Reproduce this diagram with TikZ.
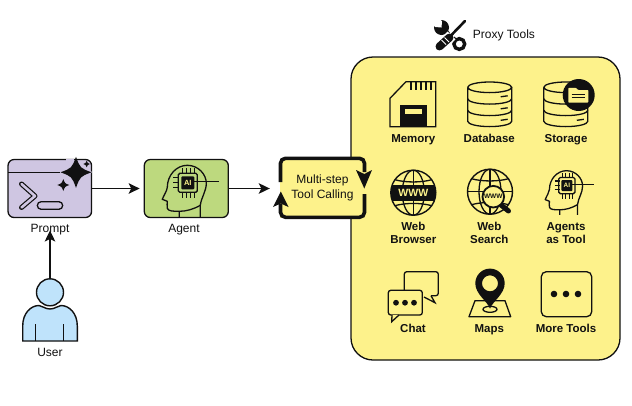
\documentclass[tikz,border=0pt]{standalone}
\usepackage{fontspec}
\setmainfont{Liberation Sans}
\usetikzlibrary{arrows.meta}
\definecolor{panelyellow}{HTML}{FDF28B}
\definecolor{promptfill}{HTML}{CFC6E2}
\definecolor{agentfill}{HTML}{BDD97E}
\definecolor{userfill}{HTML}{BFE3FB}
\definecolor{ink}{HTML}{111111}
\tikzset{
  lab/.style={font=\fontsize{12}{15}\selectfont,text=ink,align=center,inner sep=0pt,text height=9pt,text depth=2.5pt},
  toollab/.style={font=\fontsize{11.5}{12.6}\selectfont\bfseries,text=ink,align=center,inner sep=0pt,text height=8.5pt,text depth=2.5pt},
  flow/.style={draw=ink,line width=1.3pt,-{Stealth[length=11pt,width=10.5pt,inset=2.5pt]}},
  icon/.style={draw=ink,line width=1.3pt},
  thin icon/.style={draw=ink,line width=1pt},
  sparkle/.pic={\path[pic actions] (0,-1) .. controls (.27,-.27) .. (1,0) .. controls (.27,.27) .. (0,1) .. controls (-.27,.27) .. (-1,0) .. controls (-.27,-.27) .. (0,-1) -- cycle;},
  headpic/.pic={
    \draw[icon,line join=round] (-9,34) -- (-9,28) .. controls (-15,28) and (-20,28) .. (-21,25)
      .. controls (-21.5,22) and (-21,20) .. (-21,18) -- (-26,16) .. controls (-24,11) and (-21.5,8) .. (-21,4)
      .. controls (-21,-8) and (-12,-18) .. (-1,-18) .. controls (10,-18) and (18,-9) .. (18,0)
      .. controls (18,8) and (13,14) .. (12,22) -- (12,34);
    \draw[icon] (-9,28) .. controls (-2,28) and (5,26) .. (12,22);
    \draw[icon] (0,-2) -- (31,-2);
    \draw[icon] (-15,-6) -- (-9,-6) (-15,-1) -- (-9,-1) (-15,4) -- (-9,4);
    \foreach \px in {-5,-1,3,7}{\draw[thin icon] (\px-1,-15) -- (\px-1,-9) (\px-1,9) -- (\px-1,15);}
    \draw[icon,rounded corners=1.5pt,fill=none] (-10,-10) rectangle (9,9);
    \fill[ink,rounded corners=1pt] (-7,-7) rectangle (6,6);
    \node[transform shape,font=\fontsize{7.5}{8}\selectfont\bfseries,text=panelyellow,inner sep=0pt] at (-0.5,-0.5) {AI};
  },
  cylinder lines/.pic={
    \draw[icon,fill=none] (-22,-17.5) arc[start angle=180,end angle=-180,x radius=22,y radius=5.3]
      (-22,-17.5) -- (-22,16.5) arc[start angle=180,end angle=0,x radius=22,y radius=5.3] -- (22,-17.5);
    \draw[icon] (-22,-6) arc[start angle=180,end angle=0,x radius=22,y radius=5.3];
    \draw[icon] (-22,5.5) arc[start angle=180,end angle=0,x radius=22,y radius=5.3];
    \draw[icon] (11,-8) -- (18,-9) (11,4) -- (18,3) (11,15.5) -- (18,14.5);
  },
  globe/.pic={
    \draw[icon,line width=1.4pt] (0,0) circle[radius=22.5];
    \draw[icon] (0,0) ellipse[x radius=11,y radius=22.5];
    \draw[icon] (0,-22.5) -- (0,22.5);
    \draw[icon] (-18.5,-13) .. controls (-8,-10) and (8,-10) .. (18.5,-13);
    \draw[icon] (-18.5,13) .. controls (-8,10) and (8,10) .. (18.5,13);
    \draw[icon] (-22.5,0) -- (22.5,0);
  }
}
\begin{document}
\begin{tikzpicture}[x=1pt,y=-1pt]
\useasboundingbox (0,0) rectangle (632,405);
\fill[white] (0,0) rectangle (632,405);

% proxy panel
\node[draw=ink,line width=1.3pt,fill=panelyellow,rounded corners=22pt,minimum width=269pt,minimum height=303pt,inner sep=0pt] (panel) at (485.5,208.5) {};

% prompt
\node[draw=ink,line width=1.3pt,fill=promptfill,rounded corners=6pt,minimum width=83.5pt,minimum height=58pt,inner sep=0pt] (prompt) at (49.8,188.5) {};
\draw[icon] (8,172.3) -- (60,172.3);
\draw[ink,line width=5pt,line join=round,line cap=round] (21.5,184) -- (35,196) -- (21.5,207.5);
\draw[promptfill,line width=2.6pt,line join=round,line cap=round] (21.5,184) -- (35,196) -- (21.5,207.5);
\draw[icon,rounded corners=3.8pt] (37.3,201.7) rectangle (62.7,209.3);
\fill[promptfill] (62,172) -- (76,190) -- (92,172) -- (76,160.2) -- cycle;
\fill[promptfill] (66,159) rectangle (74,161);
\pic[fill=ink,scale=15.5] at (76,172.3) {sparkle};
\pic[fill=ink,scale=6] at (63.3,185) {sparkle};
\pic[fill=ink,scale=3.3] at (86.7,164) {sparkle};
\node[lab] (promptlabel) at (50,229.5) {Prompt};

% agent
\node[draw=ink,line width=1.3pt,fill=agentfill,rounded corners=6pt,minimum width=84pt,minimum height=58pt,inner sep=0pt] (agent) at (186.3,188.5) {};
\pic at (188.3,183.3) {headpic};
\node[lab] (agentlabel) at (184,229.5) {Agent};

% user
\draw[icon,line width=1.4pt,fill=userfill] (22.7,341) -- (22.7,326) .. controls (22.7,313) and (31,305.5) .. (39,305.5) .. controls (43,306) and (45,309) .. (50,309) .. controls (55,309) and (57,306) .. (61,305.5) .. controls (69,305.5) and (77.3,313) .. (77.3,326) -- (77.3,341) -- cycle;
\draw[icon] (35.7,324.3) -- (35.7,341) (63.3,324.3) -- (63.3,341);
\node[draw=ink,line width=1.4pt,fill=userfill,circle,minimum size=27pt,inner sep=0pt] (userhead) at (50,292.3) {};
\node[lab] (userlabel) at (50,352.75) {User};

% multi-step box
\node[fill=panelyellow,minimum width=85pt,minimum height=59pt,inner sep=0pt] (multi) at (322.5,188.5) {};
\node[lab] (multitext) at (322.5,195.3) {Multi-step\\Tool Calling};
\draw[ink,line width=3.6pt,rounded corners=5pt] (280.5,182) -- (280.5,158.3) -- (364.5,158.3) -- (364.5,172);
\draw[ink,line width=3.6pt,rounded corners=5pt] (364.5,194) -- (364.5,217.3) -- (280.5,217.3) -- (280.5,204);
\fill[ink] (364.3,188.5) -- (356,170) -- (364.3,174) -- (372,170) -- cycle;
\fill[ink] (280.8,191.5) -- (273,207) -- (280.8,203.5) -- (288.5,207) -- cycle;

% connectors
\draw[flow] (userhead.north) -- ([yshift=5pt]promptlabel.south);
\draw[flow,shorten >=4pt] (prompt.east) -- (agent.west);
\draw[flow,shorten >=10pt] (agent.east) -- (multi.west);

% proxy tools heading: screwdriver and wrench
\draw[ink,line width=4.4pt] (444,30) -- (456,41);
\fill[ink] (441.5,27.5) circle[radius=7.5];
\fill[white] (441.5,27.5) -- (435.5,27) -- (431,24) -- (438,16) -- (442,21.5) -- cycle;
\fill[white] (459.3,44) circle[radius=3.5];
\draw[ink,line width=3.4pt] (459.3,44) circle[radius=5.4];
\draw[white,line width=6pt] (463.5,23) -- (451,35.5);
\draw[ink,line width=2.6pt,line cap=round] (465,21) -- (450,36.5);
\draw[white,line width=11pt] (451.5,35.5) -- (448.5,38.5);
\draw[ink,line width=8pt,line cap=round] (449.5,37.5) -- (439.5,46.5);
\draw[white,line width=.9pt] (446,44.5) -- (441.5,40) (449,42) -- (444.5,37.5);
\node[lab,anchor=west] (proxylabel) at (472.7,35) {Proxy Tools};

% memory
\draw[icon,line join=miter] (390,98.3) -- (390,126.7) -- (435.7,126.7) -- (435.7,81.7) -- (406,81.7) -- cycle;
\fill[ink] (400,105) rectangle (426.7,126.7);
\fill[panelyellow] (405,109.3) rectangle (421.7,114);
\draw[icon] (411,82) -- (411,90) (416,82) -- (416,90) (421,82) -- (421,90) (426,82) -- (426,90) (431,82) -- (431,90);
\node[toollab] (memory) at (413.3,139.7) {Memory};

% database
\pic at (489.7,104.8) {cylinder lines};
\node[toollab] (database) at (489.3,139.7) {Database};

% storage
\pic at (565.8,104.8) {cylinder lines};
\fill[ink] (578.7,95) circle[radius=16];
\fill[panelyellow,rounded corners=.8pt] (568.3,102.7) -- (568.3,87.8) -- (576,87.8) -- (578,90) -- (588.3,90) -- (588.3,102.7) -- cycle;
\draw[ink,line width=.9pt] (571.5,94.3) -- (585,94.3) (571.5,97.7) -- (585,97.7);
\node[toollab] (storage) at (566,139.7) {Storage};

% web browser
\pic at (413.3,192.7) {globe};
\begin{scope}
\clip (413.3,192.7) circle[radius=22.5];
\fill[ink] (390,185) rectangle (437,200.5);
\end{scope}
\node[font=\fontsize{10.5}{11}\selectfont\bfseries,text=panelyellow,inner sep=0pt] (wwwa) at (413.3,192.9) {WWW};
\node[toollab] (webbrowser) at (413.3,240.4) {Web\\Browser};

% web search
\pic at (490,191.7) {globe};
\draw[ink,line width=5pt,line cap=round] (501,205) -- (508.5,211);
\draw[ink,line width=1.8pt,fill=panelyellow] (493.3,196.7) circle[radius=10.8];
\node[font=\fontsize{6.5}{7}\selectfont\bfseries,text=ink,inner sep=0pt] (wwwb) at (493.3,196.7) {WWW};
\node[toollab] (websearch) at (489.3,240.4) {Web\\Search};

% agents as tool
\pic[scale=.85] at (567.3,186) {headpic};
\node[toollab] (agentstool) at (566,240.4) {Agents\\as Tool};

% chat
\draw[icon,rounded corners=2.5pt] (404.3,290) -- (404.3,271.7) -- (438.3,271.7) -- (438.3,295.7) -- (431,295.7);
\draw[icon,line join=miter] (431,295.7) -- (435,302.7) -- (424,297);
\draw[icon,rounded corners=2.5pt,fill=panelyellow] (396,315) -- (388.3,315) -- (388.3,290.3) -- (422.3,290.3) -- (422.3,315) -- (396,315);
\draw[icon,line join=miter,fill=panelyellow] (392,315) -- (391.7,321.7) -- (399,315);
\fill[ink] (396,302.7) circle[radius=2.9] (405,302.7) circle[radius=2.9] (414,302.7) circle[radius=2.9];
\node[toollab] (chat) at (413,329.3) {Chat};

% maps
\draw[icon,line join=round] (475,300.7) -- (505,300.7) -- (510.7,316.7) -- (469,316.7) -- cycle;
\draw[icon] (490,309.3) ellipse[x radius=7,y radius=3];
\fill[ink,even odd rule] (490,308.5) .. controls (487,301) and (475.3,294) .. (475.3,283.3) arc[start angle=180,end angle=360,radius=14.7] .. controls (504.7,294) and (493,301) .. (490,308.5) -- cycle (490,283.3) circle[radius=8];
\node[toollab] (maps) at (489.3,329.3) {Maps};

% more tools
\node[draw=ink,line width=1.3pt,rounded corners=5pt,minimum width=50.4pt,minimum height=45pt,inner sep=0pt] (moreicon) at (566.5,294.2) {};
\fill[ink] (554,294) circle[radius=3.3] (566,294) circle[radius=3.3] (578,294) circle[radius=3.3];
\node[toollab] (moretools) at (566,329.3) {More Tools};
\end{tikzpicture}
\end{document}
